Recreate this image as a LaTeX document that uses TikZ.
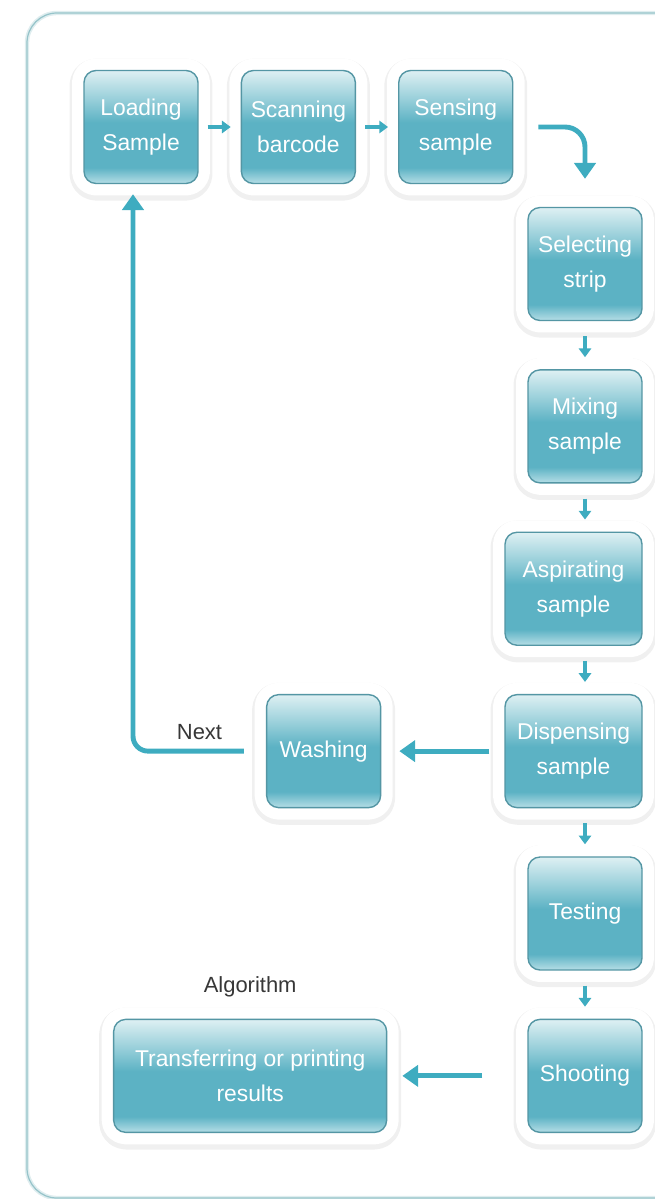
\documentclass[tikz,border=0pt]{standalone}
\usepackage{fontspec}
\setmainfont{Liberation Sans}
\usetikzlibrary{arrows.meta, positioning}

\definecolor{boxtop}{RGB}{222, 240, 243}
\definecolor{boxsoft}{RGB}{150, 206, 217}
\definecolor{boxmid}{RGB}{92, 178, 196}
\definecolor{boxlow}{RGB}{182, 222, 230}
\definecolor{boxedge}{RGB}{84, 150, 164}
\definecolor{flowteal}{RGB}{62, 172, 192}
\definecolor{framecol}{RGB}{150, 196, 202}
\definecolor{notegray}{RGB}{55, 55, 55}

\pgfdeclareverticalshading{tealbox}{100bp}{color(0bp)=(boxlow); color(25bp)=(boxlow);
  color(32bp)=(boxmid); color(52bp)=(boxmid); color(62bp)=(boxsoft);
  color(75bp)=(boxtop); color(100bp)=(boxtop)}

\begin{document}
\begin{tikzpicture}[x=0.02cm, y=-0.02cm,
  node distance=0.96cm and 0.84cm,
  stepbox/.style={rectangle, rounded corners=0.24cm, draw=boxedge, line width=0.8pt,
    shade, shading=tealbox, minimum width=2.28cm, minimum height=2.26cm, align=center,
    text=white, font=\fontsize{13}{20}\selectfont,
    preaction={draw=black!6, line width=0.58cm, line join=round, transform canvas={yshift=-1.5pt}},
    preaction={draw=white, fill=white, line width=0.48cm, line join=round}},
  arr/.style={-{Triangle[width=7pt, length=5pt]}, line width=2.3pt, flowteal},
  bigarr/.style={-{Triangle[width=12pt, length=9pt]}, line width=2.8pt, flowteal,
    rounded corners=0.4cm},
  note/.style={text=notegray, font=\fontsize{12.5}{15}\selectfont}
]
  \clip (0,0) rectangle (655,1199);
  % outer frame
  \draw[framecol, line width=0.7pt, rounded corners=0.6cm,
    preaction={draw=framecol!30, line width=2.5pt}] (27,13) rectangle (720,1198);

  % top row
  \node[stepbox] (load) at (141,127) {Loading\\Sample};
  \node[stepbox, right=of load] (scan) {Scanning\\barcode};
  \node[stepbox, right=of scan] (sense) {Sensing\\sample};

  % right column, right edges lined up
  \node[stepbox] (select) at (585,264) {Selecting\\strip};
  \node[stepbox, below=of select.south east, anchor=north east] (mix) {Mixing\\sample};
  \node[stepbox, minimum width=2.74cm, below=of mix.south east, anchor=north east] (aspire) {Aspirating\\sample};
  \node[stepbox, minimum width=2.74cm, below=of aspire.south east, anchor=north east] (dispense) {Dispensing\\sample};
  \node[stepbox, below=of dispense.south east, anchor=north east] (test) {Testing};
  \node[stepbox, below=of test.south east, anchor=north east] (shoot) {Shooting};

  % side branches
  \node[stepbox, left=2.46cm of dispense] (wash) {Washing};
  \node[stepbox, minimum width=5.46cm, left=2.8cm of shoot] (report) {Transferring or printing\\results};
  \node[note, above=0.3cm of report] (algo) {Algorithm};

  \draw[arr, shorten <=0.18cm, shorten >=0.2cm] (load) -- (scan);
  \draw[arr, shorten <=0.18cm, shorten >=0.2cm] (scan) -- (sense);
  \draw[bigarr, shorten <=0.5cm, shorten >=0.56cm] (sense.east) -| (select.north);
  \foreach \a/\b in {select/mix, mix/aspire, aspire/dispense, dispense/test, test/shoot}
    \draw[arr, shorten <=0.3cm, shorten >=0.24cm] (\a.south -| select) -- (\b.north -| select);
  \draw[bigarr, shorten <=0.3cm, shorten >=0.36cm] (dispense) -- (wash);
  \draw[bigarr, shorten <=0.9cm, shorten >=0.3cm] (shoot) -- (report);

  % loop back
  \coordinate (loopx) at ([xshift=-0.16cm]load.south);
  \draw[bigarr, rounded corners=0.3cm, shorten <=0.44cm, shorten >=0.2cm] (wash.west)
    -- node[note, above, pos=0.5, yshift=2pt] (next) {Next} (loopx |- wash.west) -- (loopx);
\end{tikzpicture}
\end{document}
